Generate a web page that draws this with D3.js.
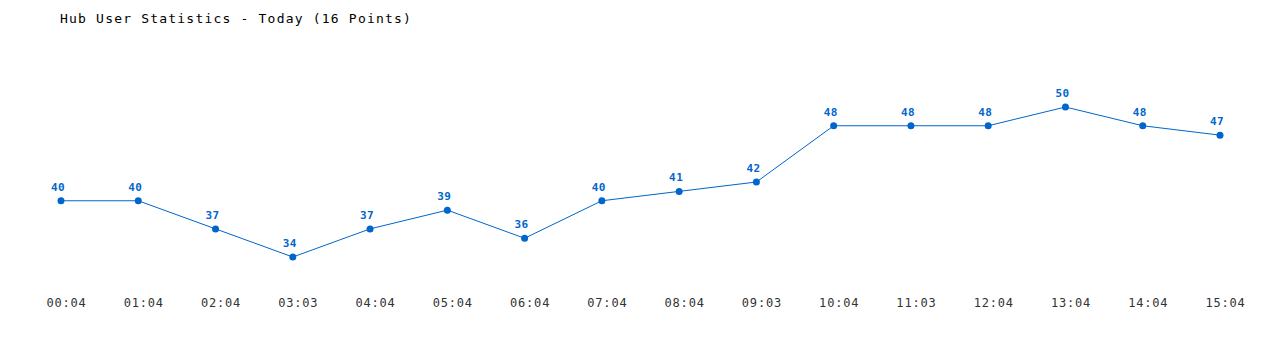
<!DOCTYPE html>
<html>
<head>
<meta charset="utf-8">
<script src="https://cdn.jsdelivr.net/npm/d3@7"></script>
<style>
  body { margin: 0; background: #fff; }
  text { font-family: "DejaVu Sans Mono", "Liberation Mono", monospace; }
</style>
</head>
<body>
<svg width="1280" height="350"></svg>
<script>
const times = ['00:04', '01:04', '02:04', '03:03', '04:04', '05:04', '06:04', '07:04',
    '08:04', '09:03', '10:04', '11:03', '12:04', '13:04', '14:04', '15:04'];
const users = [40, 40, 37, 34, 37, 39, 36, 40, 41, 42, 48, 48, 48, 50, 48, 47];

const svg = d3.select('svg');
const blue = '#0066cc';

const x = d3.scalePoint()
    .domain(times)
    .range([61, 1220]);

const y = d3.scaleLinear()
    .domain([34, 50])
    .range([257, 107]);

svg.append('text')
    .attr('x', 60)
    .attr('y', 23)
    .attr('font-size', 13)
    .attr('letter-spacing', 1.2)
    .attr('fill', '#000')
    .text('Hub User Statistics - Today (16 Points)');

const xAxis = svg.append('g')
    .attr('transform', 'translate(0,290)')
    .call(d3.axisBottom(x).tickSize(0).tickPadding(8));
xAxis.select('.domain').remove();
xAxis.selectAll('text')
    .attr('font-family', '"DejaVu Sans Mono", monospace')
    .attr('font-size', 12)
    .attr('letter-spacing', 0.8)
    .attr('dx', 5)
    .attr('fill', '#333');

const pts = times.map((t, i) => ({ t, v: users[i] }));

svg.append('path')
    .datum(pts)
    .attr('fill', 'none')
    .attr('stroke', blue)
    .attr('stroke-width', 1)
    .attr('d', d3.line().x(d => x(d.t)).y(d => y(d.v)));

svg.append('g')
    .selectAll('circle')
    .data(pts)
    .enter()
    .append('circle')
    .attr('cx', d => x(d.t))
    .attr('cy', d => y(d.v))
    .attr('r', 3.5)
    .attr('fill', blue);

svg.append('g')
    .selectAll('text')
    .data(pts)
    .enter()
    .append('text')
    .attr('x', d => x(d.t))
    .attr('y', d => y(d.v) - 10)
    .attr('dx', -3)
    .attr('text-anchor', 'middle')
    .attr('font-size', 11)
    .attr('letter-spacing', 0.4)
    .attr('font-weight', 'bold')
    .attr('fill', blue)
    .text(d => d.v);
</script>
</body>
</html>
